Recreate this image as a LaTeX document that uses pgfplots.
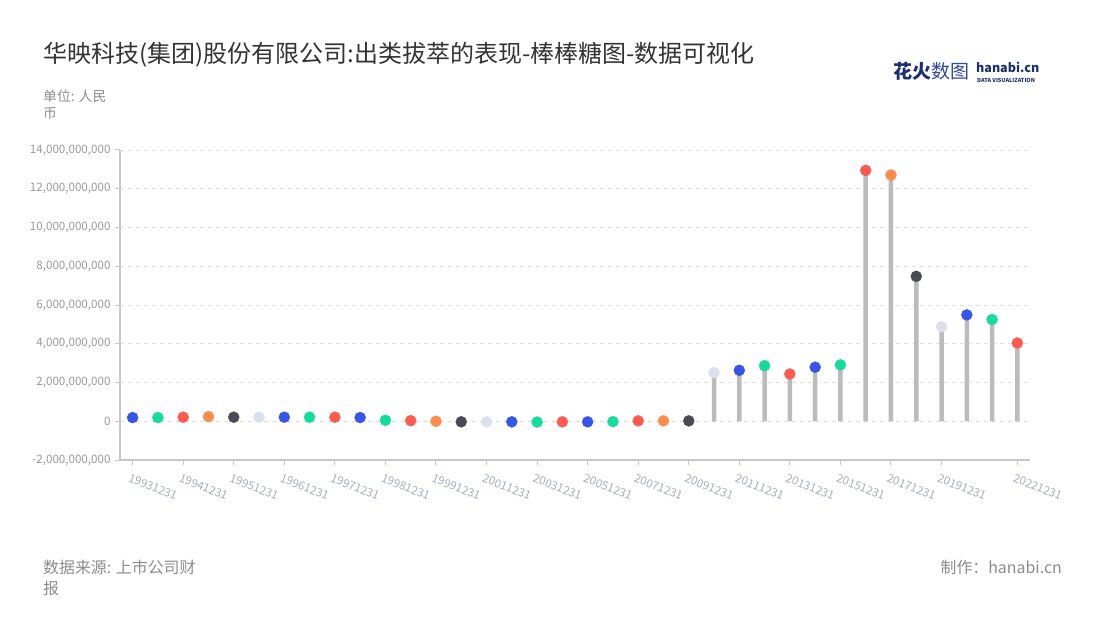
\documentclass[border=0pt]{standalone}
\usepackage{fontspec}
\setmainfont{Noto Sans CJK SC}
\usepackage{pgfplots}
\pgfplotsset{compat=1.18}
\usepackage{pgfplotstable}

\definecolor{cB}{HTML}{3556E8}
\definecolor{cG}{HTML}{12DE99}
\definecolor{cR}{HTML}{FF5A50}
\definecolor{cO}{HTML}{FF8C4B}
\definecolor{cD}{HTML}{4A4A55}
\definecolor{cL}{HTML}{DCE0EA}
\definecolor{stem}{HTML}{BBBBBB}
\definecolor{titlec}{HTML}{333333}
\definecolor{subc}{HTML}{8C8C8C}
\definecolor{tickc}{HTML}{999999}
\definecolor{xtickc}{HTML}{A8ADBD}
\definecolor{gridc}{HTML}{E0E0E0}
\definecolor{axisc}{HTML}{C8C8C8}
\definecolor{navy}{HTML}{1B2F72}
\definecolor{logob}{HTML}{2C4A9E}

\pgfplotstableread{
x y c
0 190000000 B
1 190000000 G
2 210000000 R
3 240000000 O
4 210000000 D
5 210000000 L
6 210000000 B
7 210000000 G
8 210000000 R
9 190000000 B
10 50000000 G
11 30000000 R
12 0 O
13 -30000000 D
14 -30000000 L
15 -30000000 B
16 -40000000 G
17 -30000000 R
18 -30000000 B
19 -20000000 G
20 20000000 R
21 20000000 O
22 20000000 D
23 2510000000 L
24 2630000000 B
25 2870000000 G
26 2440000000 R
27 2790000000 B
28 2910000000 G
29 12950000000 R
30 12710000000 O
31 7480000000 D
32 4880000000 L
33 5490000000 B
34 5250000000 G
35 4040000000 R
}\datatable

\begin{document}
\begin{tikzpicture}
\path[use as bounding box] (0pt,0pt) rectangle (1100pt,-620pt);

\node[anchor=west, text=titlec, font=\fontsize{24}{27}\selectfont, inner sep=0pt] at (43pt,-55pt)
  {华映科技(集团)股份有限公司:出类拔萃的表现-棒棒糖图-数据可视化};
\node[anchor=west, text=subc, font=\fontsize{13.8}{16}\selectfont, inner sep=0pt] at (43pt,-96pt) {单位: 人民};
\node[anchor=west, text=subc, font=\fontsize{13.8}{16}\selectfont, inner sep=0pt] at (43pt,-113pt) {币};
\node[anchor=west, text=subc, font=\fontsize{15.9}{18}\selectfont, inner sep=0pt] at (43pt,-567pt) {数据来源: 上市公司财};
\node[anchor=west, text=subc, font=\fontsize{15.9}{18}\selectfont, inner sep=0pt] at (43pt,-588pt) {报};
\node[anchor=east, text=subc, font=\fontsize{15.9}{18}\selectfont, inner sep=0pt] at (1062pt,-567pt) {制作：hanabi.cn};

% logo
\node[anchor=west, inner sep=0pt, font=\fontsize{19}{20}\selectfont] at (893pt,-71pt)
  {\textcolor{navy}{\bfseries 花火}\textcolor{logob}{数图}};
\node[anchor=west, inner sep=0pt, text=navy, font=\fontsize{12.5}{13}\bfseries\selectfont] at (976pt,-67pt) {hanabi.cn};
\node[anchor=west, inner sep=0pt, text=navy, font=\fontsize{5.5}{6}\bfseries\selectfont] at (977pt,-80pt) {DATA VISUALIZATION};

\begin{axis}[
  at={(120pt,-460pt)}, anchor=south west,
  scale only axis, width=910pt, height=310pt,
  xmin=-0.5, xmax=35.5,
  ymin=-2000000000, ymax=14000000000,
  clip=false,
  axis x line*=bottom, axis y line*=left,
  axis line style={draw=axisc, line width=1.5pt, -},
  xtick={0,2,4,6,8,10,12,14,16,18,20,22,24,26,28,30,32,35},
  xticklabels={19931231,19941231,19951231,19961231,19971231,19981231,19991231,20011231,20031231,20051231,20071231,20091231,20111231,20131231,20151231,20171231,20191231,20221231},
  ytick={-2000000000,0,2000000000,4000000000,6000000000,8000000000,10000000000,12000000000,14000000000},
  scaled y ticks=false,
  /pgf/number format/fixed,
  /pgf/number format/precision=0,
  /pgf/number format/1000 sep={,},
  /pgf/number format/assume math mode=true,
  yticklabel style={text=tickc, font=\fontsize{11.6}{13}\selectfont, xshift=-1pt},
  xticklabel style={text=xtickc, font=\fontsize{11.5}{13}\selectfont, rotate=-22, anchor=north west, xshift=-2pt, yshift=-5pt},
  tick align=outside,
  major tick length=5pt,
  tick style={draw=axisc, line width=1pt},
  ymajorgrids,
  grid style={draw=gridc, line width=0.8pt, dash pattern=on 4pt off 4pt},
  scatter/classes={
    B={mark=*, fill=cB, draw=cB},
    G={mark=*, fill=cG, draw=cG},
    R={mark=*, fill=cR, draw=cR},
    O={mark=*, fill=cO, draw=cO},
    D={mark=*, fill=cD, draw=cD},
    L={mark=*, fill=cL, draw=cL}},
]
\addplot[ybar, bar width=4.5pt, bar shift=0pt, fill=stem, draw=none] table[x=x, y=y] {\datatable};
\addplot[scatter, only marks, mark size=5.5pt, scatter src=explicit symbolic] table[x=x, y=y, meta=c] {\datatable};
\end{axis}
\end{tikzpicture}
\end{document}
